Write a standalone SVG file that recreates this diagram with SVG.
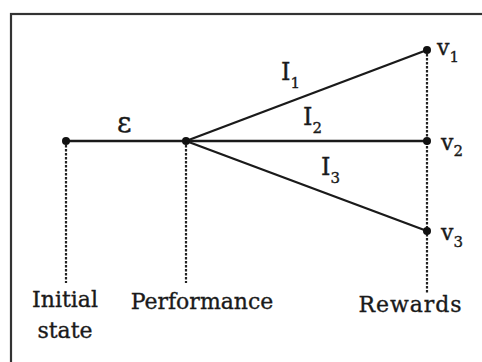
<svg xmlns="http://www.w3.org/2000/svg" width="482" height="362" viewBox="0 0 482 362">
<style>
.t{font-family:"DejaVu Serif","Liberation Serif",serif;font-size:22px;fill:#1a1a1a;stroke:#1a1a1a;stroke-width:0.35}
.s{font-size:15px}
.big{font-size:24px}
.solid{stroke:#1a1a1a;stroke-width:2.4;fill:none}
.dash{stroke:#222;stroke-width:2.2;stroke-dasharray:2.5 1.5;fill:none}
.dot{fill:#111}
</style>
<rect x="0" y="0" width="482" height="362" fill="#fff"/>
<rect x="11" y="14" width="480" height="360" fill="none" stroke="#333" stroke-width="2.2"/>
<g id="connectors">
<line class="dash" x1="66" y1="141" x2="66" y2="283"/>
<line class="dash" x1="186" y1="141" x2="186" y2="283"/>
<line class="dash" x1="427" y1="50" x2="427" y2="293"/>
<line class="solid" x1="66" y1="141" x2="186" y2="141"/>
<line class="solid" x1="186" y1="141" x2="427" y2="50"/>
<line class="solid" x1="186" y1="141" x2="427" y2="141"/>
<line class="solid" x1="186" y1="141" x2="427" y2="231"/>
<text class="t" x="117" y="132" style="font-size:28px">ε</text>
<text class="t big" x="281" y="80">I<tspan class="s" dy="8">1</tspan></text>
<text class="t big" x="303" y="125">I<tspan class="s" dy="8">2</tspan></text>
<text class="t big" x="321" y="175">I<tspan class="s" dy="8">3</tspan></text>
</g>
<g id="initial">
<circle class="dot" cx="66" cy="141" r="4"/>
<text class="t" x="65" y="307" text-anchor="middle">Initial</text>
<text class="t" x="65" y="338" text-anchor="middle">state</text>
</g>
<g id="performance">
<circle class="dot" cx="186" cy="141" r="4"/>
<text class="t" x="202" y="309" text-anchor="middle">Performance</text>
</g>
<g id="rewards">
<text class="t" x="410" y="312" text-anchor="middle" textLength="103">Rewards</text>
</g>
<g id="v1">
<circle class="dot" cx="427" cy="50" r="4"/>
<text class="t" x="437" y="55">v<tspan class="s" dy="7">1</tspan></text>
</g>
<g id="v2">
<circle class="dot" cx="427" cy="141" r="4"/>
<text class="t" x="441" y="150">v<tspan class="s" dy="6">2</tspan></text>
</g>
<g id="v3">
<circle class="dot" cx="427" cy="231" r="4"/>
<text class="t" x="441" y="240">v<tspan class="s" dy="7">3</tspan></text>
</g>
</svg>
